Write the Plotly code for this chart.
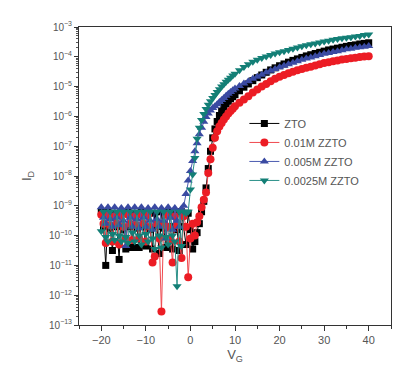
import numpy as np
import plotly.graph_objects as go

# Gate voltage (V): -20..10 step 0.5, then 11..40 step 1
vg = [-20, -19.5, -19, -18.5, -18, -17.5, -17, -16.5, -16, -15.5,
      -15, -14.5, -14, -13.5, -13, -12.5, -12, -11.5, -11, -10.5,
      -10, -9.5, -9, -8.5, -8, -7.5, -7, -6.5, -6, -5.5,
      -5, -4.5, -4, -3.5, -3, -2.5, -2, -1.5, -1, -0.5,
      0, 0.5, 1, 1.5, 2, 2.5, 3, 3.5, 4, 4.5,
      5, 5.5, 6, 6.5, 7, 7.5, 8, 8.5, 9, 9.5, 10,
      11, 12, 13, 14, 15, 16, 17, 18, 19, 20,
      21, 22, 23, 24, 25, 26, 27, 28, 29, 30,
      31, 32, 33, 34, 35, 36, 37, 38, 39, 40]

# log10(I_D)
zto_log = [-9.2, -9.7, -11.0, -9.2, -9.75, -10.5, -9.25, -9.7, -10.8, -9.2,
           -9.8, -10.45, -9.2, -9.7, -10.4, -9.25, -9.75, -10.4, -9.2, -9.7,
           -10.35, -9.2, -9.8, -10.45, -9.25, -9.7, -10.6, -9.2, -9.75, -10.4,
           -9.2, -9.7, -10.45, -9.25, -9.8, -10.5, -9.2, -9.7, -10.3, -9.25,
           -9.8, -10.45, -10.2, -9.9, -9.6, -9.2, -8.85, -8.4, -7.75, -7.17,
           -6.72, -6.42, -6.17, -5.97, -5.82, -5.69, -5.58, -5.49, -5.41, -5.34, -5.27,
           -5.14, -5.02, -4.91, -4.8, -4.7, -4.61, -4.52, -4.44, -4.37, -4.3,
           -4.24, -4.18, -4.12, -4.07, -4.02, -3.97, -3.93, -3.89, -3.85, -3.81,
           -3.77, -3.74, -3.71, -3.68, -3.65, -3.62, -3.6, -3.57, -3.55, -3.53]

zzto_01_log = [-9.3, -9.6, -10.25, -9.3, -9.65, -10.2, -9.35, -9.6, -10.3, -9.3,
               -9.7, -10.1, -9.3, -9.6, -10.15, -9.35, -9.65, -10.1, -9.3, -9.6,
               -10.2, -9.3, -9.7, -10.9, -10.7, -9.6, -10.1, -12.55, -9.6, -9.3,
               -9.7, -10.15, -10.9, -9.35, -9.65, -10.2, -10.75, -9.35, -9.7, -11.4,
               -10.1, -9.6, -10.0, -9.55, -9.35, -9.05, -8.8, -8.55, -7.9, -7.44,
               -7.05, -6.72, -6.5, -6.34, -6.22, -6.1, -6.0, -5.9, -5.82, -5.74, -5.66,
               -5.54, -5.43, -5.32, -5.2, -5.1, -5.0, -4.91, -4.82, -4.74, -4.67,
               -4.61, -4.55, -4.5, -4.45, -4.41, -4.37, -4.33, -4.29, -4.25, -4.21,
               -4.18, -4.15, -4.12, -4.09, -4.07, -4.05, -4.03, -4.01, -3.99, -3.98]

zzto_005_log = [-9.05, -9.4, -9.6, -9.05, -9.45, -9.7, -9.05, -9.4, -9.65, -9.07,
                -9.5, -10.35, -9.05, -9.4, -9.7, -9.05, -9.45, -9.75, -9.05, -9.4,
                -9.7, -9.07, -9.5, -9.8, -9.05, -9.45, -9.7, -9.07, -9.5, -10.1,
                -9.05, -9.4, -9.8, -9.07, -9.5, -9.7, -9.1, -9.0, -8.6, -8.15,
                -7.83, -7.5, -7.17, -6.9, -6.6, -6.38, -6.18, -6.02, -5.9, -5.8,
                -5.72, -5.66, -5.59, -5.52, -5.45, -5.38, -5.31, -5.24, -5.18, -5.12, -5.06,
                -4.98, -4.9, -4.82, -4.74, -4.67, -4.6, -4.53, -4.47, -4.41, -4.35,
                -4.3, -4.25, -4.2, -4.15, -4.1, -4.06, -4.02, -3.98, -3.94, -3.9,
                -3.87, -3.84, -3.81, -3.78, -3.75, -3.73, -3.7, -3.68, -3.66, -3.64]

zzto_0025_log = [-9.85, -9.2, -10.05, -10.2, -9.2, -9.95, -10.15, -9.2, -10.0, -10.2,
                 -9.2, -10.05, -10.25, -9.2, -9.9, -10.2, -9.2, -10.0, -10.3, -9.2,
                 -9.95, -10.2, -9.2, -10.1, -10.45, -9.2, -10.0, -10.4, -9.2, -10.05,
                 -10.3, -9.2, -10.0, -10.2, -11.7, -9.2, -10.35, -9.2, -9.25, -9.2,
                 -8.45, -7.95, -7.4, -6.75, -6.38, -6.12, -5.92, -5.75, -5.61, -5.49,
                 -5.38, -5.28, -5.18, -5.09, -5.0, -4.92, -4.84, -4.77, -4.7, -4.63, -4.57,
                 -4.45, -4.34, -4.25, -4.17, -4.1, -4.04, -3.99, -3.94, -3.89, -3.85,
                 -3.81, -3.77, -3.73, -3.69, -3.65, -3.61, -3.58, -3.55, -3.52, -3.49,
                 -3.46, -3.43, -3.4, -3.38, -3.36, -3.34, -3.32, -3.3, -3.27, -3.25]

series_names = ["ZTO", "0.01M ZZTO", "0.005M ZZTO", "0.0025M ZZTO"]
series_logs = [zto_log, zzto_01_log, zzto_005_log, zzto_0025_log]
marker_colors = ["#000000", "#ec1c24", "#3a4aa2", "#137f76"]
line_colors = ["#000000", "#f0484e", "#4b5bb0", "#2a9088"]
symbols = ["square", "circle", "triangle-up", "triangle-down"]
sizes = [7, 8, 8, 8]

y_tickvals = [1e-13, 1e-12, 1e-11, 1e-10, 1e-9, 1e-8, 1e-7, 1e-6, 1e-5, 1e-4, 1e-3]
y_ticktext = ["10<sup>\u221213</sup>", "10<sup>\u221212</sup>", "10<sup>\u221211</sup>",
              "10<sup>\u221210</sup>", "10<sup>\u22129</sup>", "10<sup>\u22128</sup>",
              "10<sup>\u22127</sup>", "10<sup>\u22126</sup>", "10<sup>\u22125</sup>",
              "10<sup>\u22124</sup>", "10<sup>\u22123</sup>"]
x_tickvals = [-20, -10, 0, 10, 20, 30, 40]

fig = go.Figure()
for name, logs, mc, lc, sym, sz in zip(series_names, series_logs, marker_colors,
                                       line_colors, symbols, sizes):
    fig.add_trace(go.Scatter(
        x=vg, y=np.power(10.0, np.array(logs)), name=name, mode="lines+markers",
        line=dict(color=lc, width=1),
        marker=dict(symbol=sym, size=sz, color=mc, line=dict(width=0)),
    ))

font_family = "Arial, Liberation Sans, Helvetica, sans-serif"
fig.update_layout(
    width=400, height=367,
    margin=dict(l=71, r=17, t=15, b=50),
    paper_bgcolor="white", plot_bgcolor="white",
    font=dict(family=font_family, size=11, color="#555555"),
    showlegend=True,
    legend=dict(x=0.53, y=0.725, xanchor="left", yanchor="top",
                bgcolor="rgba(0,0,0,0)", font=dict(size=11, color="#555555"),
                tracegroupgap=0, itemwidth=30),
)
fig.update_xaxes(
    range=[-25, 45], tickmode="array", tickvals=x_tickvals,
    ticks="outside", ticklen=5, tickcolor="#333333",
    minor=dict(ticks="outside", ticklen=3, dtick=5, tick0=-25, tickcolor="#333333"),
    showline=True, linecolor="#333333", linewidth=1, mirror=True,
    showgrid=False, zeroline=False,
    tickfont=dict(size=11, color="#555555"),
    title=dict(text="V<sub>G</sub>", font=dict(size=13, color="#555555"), standoff=4),
)
fig.update_yaxes(
    type="log", range=[-13, -3], tickmode="array", tickvals=y_tickvals,
    ticktext=y_ticktext,
    ticks="outside", ticklen=4, tickcolor="#333333",
    minor=dict(ticks="outside", ticklen=2, dtick="D1", tickcolor="#555555"),
    showline=True, linecolor="#333333", linewidth=1, mirror=True,
    showgrid=False, zeroline=False,
    tickfont=dict(size=10, color="#555555"),
    title=dict(text="I<sub>D</sub>", font=dict(size=13, color="#555555"), standoff=14),
)

fig.write_html("out.html")
